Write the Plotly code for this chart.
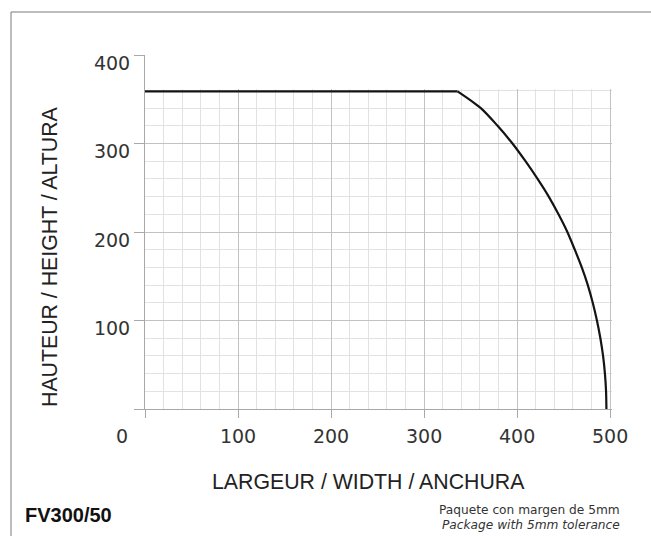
import plotly.graph_objects as go

# Data (width, height in mm)
widths = [0, 336, 361, 379, 395, 409, 422, 434, 444.5, 454, 462, 469.5, 476, 481.3,
          485.8, 489.5, 492.4, 494.4, 495.6, 496]
heights = [359, 359, 340, 320, 300, 280, 260, 240, 220, 200, 180, 160, 140, 120,
           100, 80, 60, 40, 20, 0]

x_ticks = [0, 100, 200, 300, 400, 500]
x_ticktext = ["", "100", "200", "300", "400", "500"]
y_ticks = [0, 100, 200, 300]
y_ticktext = ["", "100", "200", "300"]
y_top_ticks = [400]
y_top_ticktext = ["400"]

W, H = 651, 536
L, R, T, B = 145, 39, 55, 127
PW, PH = W - L - R, H - T - B
Y_MAIN_TOP = 362
Y_TOP = 400


def px(x):
    return (x - L) / PW


def py(y):
    return (H - B - y) / PH


major = "#c2c2c2"
minor = "#e2e2e2"
axis_col = "#a8a8a8"
tick_font = dict(family="DejaVu Sans", size=19, color="#333")
curve_line = dict(color="#141414", width=2.2)

fig = go.Figure()
# flat top segment
fig.add_trace(go.Scatter(
    x=widths[:2], y=heights[:2], mode="lines",
    line=dict(**curve_line, shape="linear"),
    hoverinfo="skip", showlegend=False, xaxis="x", yaxis="y",
))
# curved segment
fig.add_trace(go.Scatter(
    x=widths[1:], y=heights[1:], mode="lines",
    line=dict(**curve_line, shape="spline", smoothing=0.8),
    hoverinfo="skip", showlegend=False, xaxis="x", yaxis="y",
))
fig.add_trace(go.Scatter(x=[None], y=[None], xaxis="x2", yaxis="y2",
                         showlegend=False, hoverinfo="skip"))

split = Y_MAIN_TOP / Y_TOP
fig.update_layout(
    width=W, height=H,
    margin=dict(l=L, r=R, t=T, b=B),
    paper_bgcolor="white", plot_bgcolor="white",
    showlegend=False,
    xaxis=dict(
        range=[0, 502], domain=[0, 1], anchor="y",
        tickvals=x_ticks, ticktext=x_ticktext,
        showgrid=True, gridcolor=major, gridwidth=1,
        minor=dict(dtick=20, showgrid=True, gridcolor=minor, gridwidth=1),
        showline=True, linecolor=axis_col, linewidth=1,
        ticks="outside", ticklen=8, tickcolor=axis_col,
        tickfont=tick_font, zeroline=False, ticklabelstandoff=2,
    ),
    yaxis=dict(
        range=[0, Y_MAIN_TOP], domain=[0, split], anchor="x",
        tickvals=y_ticks, ticktext=y_ticktext,
        showgrid=True, gridcolor=major, gridwidth=1,
        minor=dict(dtick=20, showgrid=True, gridcolor=minor, gridwidth=1),
        showline=True, linecolor=axis_col, linewidth=1,
        ticks="outside", ticklen=10, tickcolor=axis_col,
        tickfont=tick_font, zeroline=False, ticklabelshift=8,
    ),
    xaxis2=dict(range=[0, 502], domain=[0, 1], anchor="y2", visible=False,
                showgrid=False),
    yaxis2=dict(
        range=[Y_MAIN_TOP, Y_TOP], domain=[split, 1], anchor="x2",
        tickvals=y_top_ticks, ticktext=y_top_ticktext,
        showgrid=False, zeroline=False,
        showline=True, linecolor=axis_col, linewidth=1,
        ticks="outside", ticklen=10, tickcolor=axis_col,
        tickfont=tick_font, ticklabelshift=8,
    ),
)

# frame
fig.add_shape(type="rect", xref="paper", yref="paper",
              x0=px(11), x1=px(700), y0=py(600), y1=py(12),
              line=dict(color="#7a7a7a", width=1), fillcolor="rgba(0,0,0,0)",
              layer="below")

title_font = dict(family="Liberation Sans, Arial", size=21.3, color="#222")
note_font = dict(family="DejaVu Sans", size=12.2, color="#333")
annots = [
    dict(text="0", x=px(122), y=py(436), font=tick_font),
    dict(text="LARGEUR / WIDTH / ANCHURA", x=px(368), y=py(482), font=title_font),
    dict(text="HAUTEUR / HEIGHT / ALTURA", x=px(50), y=py(257), font=title_font, textangle=-90),
    dict(text="<b>FV300/50</b>", x=px(23), y=py(515), xanchor="left",
         font=dict(family="Liberation Sans, Arial", size=20, color="#111")),
    dict(text="Paquete con margen de 5mm", x=px(622), y=py(510), xanchor="right",
         font=note_font),
    dict(text="<i>Package with 5mm tolerance</i>", x=px(622), y=py(524.5), xanchor="right",
         font=note_font),
]
for a in annots:
    base = dict(xref="paper", yref="paper", showarrow=False, xanchor="center", yanchor="middle")
    base.update(a)
    fig.add_annotation(**base)

fig.write_html("out.html", config={"displayModeBar": False},
               post_script="document.body.style.margin='0px';")
